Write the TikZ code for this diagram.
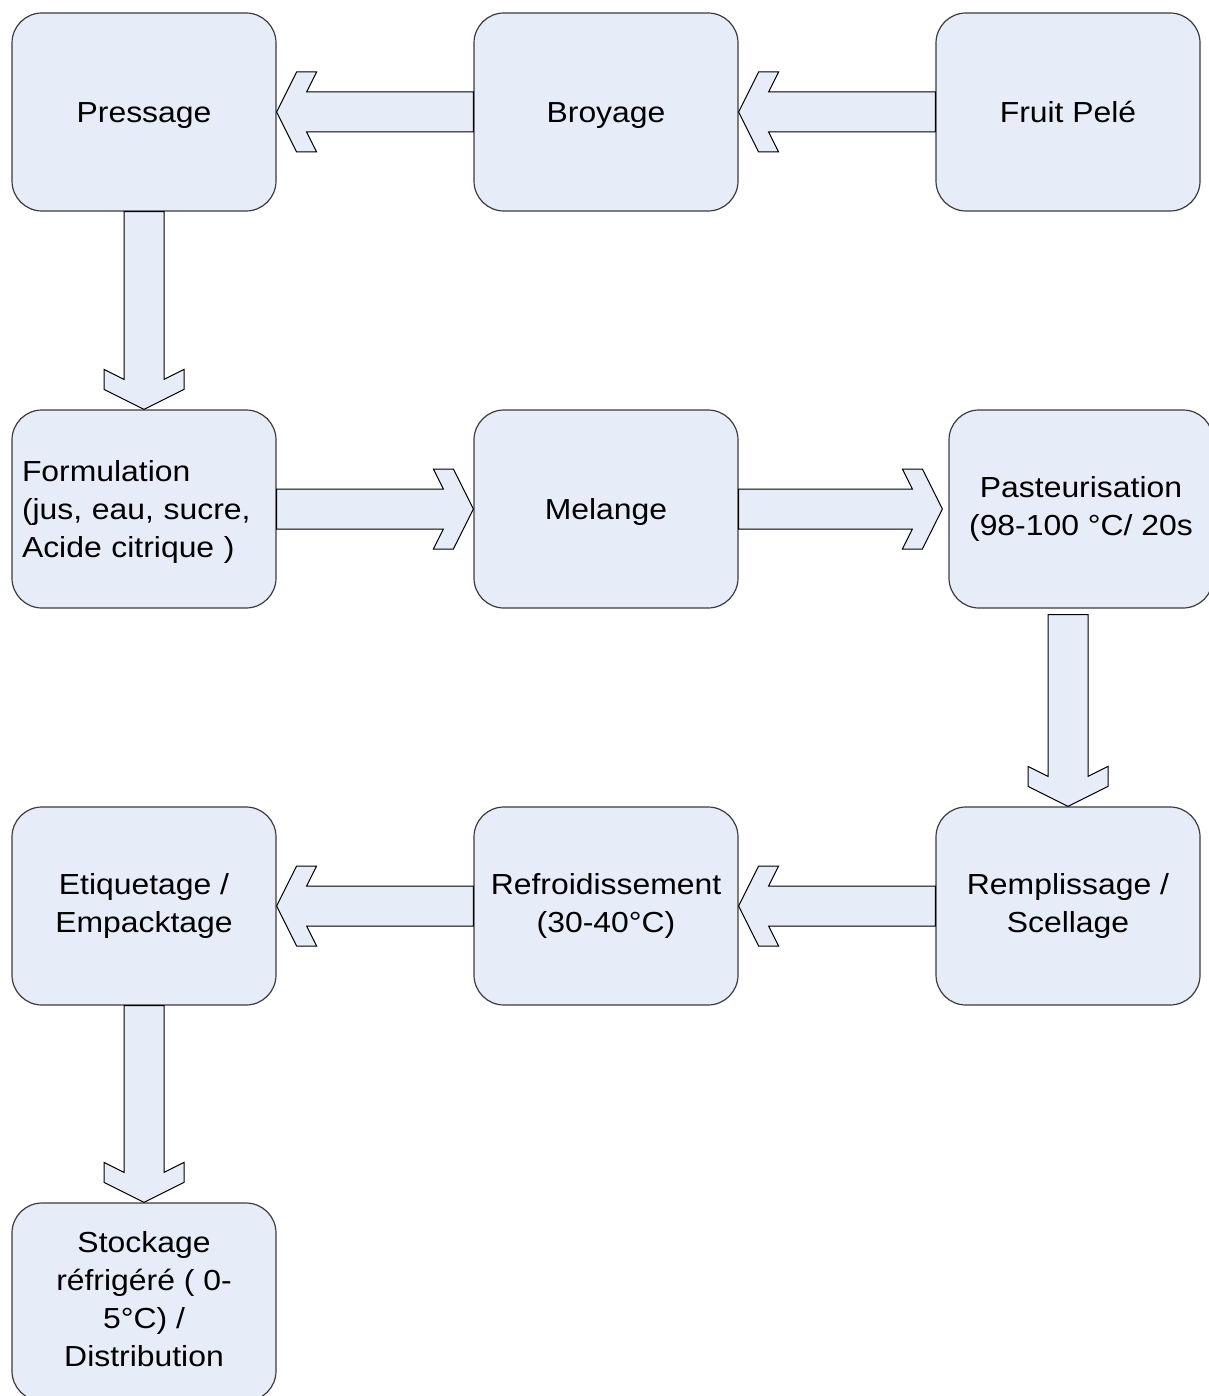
\documentclass[tikz,border=0pt]{standalone}
\usepackage{fontspec}
\setmainfont{Liberation Sans}[FakeStretch=1.1]
\usetikzlibrary{calc}

\definecolor{boxfill}{HTML}{E6EDF8}
\definecolor{boxline}{HTML}{3C3C3C}

% line ascent / descent as in the source drawing
\newcommand{\topstrut}{\rule{0pt}{0.905em}}
\newcommand{\botstrut}{\rule[-0.212em]{0pt}{0pt}}

\tikzset{
  procbox/.style={draw=boxline, line width=1.2pt, fill=boxfill, rounded corners=30pt,
    minimum width=264pt, minimum height=198pt, align=center,
    font=\fontsize{29}{38}\selectfont,
    execute at begin node=\topstrut, execute at end node=\botstrut},
  fatarrow/.style={draw=black, line width=1pt, fill=boxfill, line join=miter}
}

% hollow block arrow from #1 to the tip #2
\newcommand{\fatarrow}[2]{%
  \path (#1) coordinate (fa s) (#2) coordinate (fa t);
  \path ($(fa t)!30pt!(fa s)$) coordinate (fa a)
        ($(fa t)!40pt!(fa s)$) coordinate (fa b)
        ($(fa t)!20pt!(fa s)$) coordinate (fa c);
  \draw[fatarrow] ($(fa s)!20pt!90:(fa t)$) -- ($(fa a)!20pt!90:(fa t)$)
    -- ($(fa b)!40pt!90:(fa t)$) -- ($(fa c)!40pt!90:(fa t)$) -- (fa t)
    -- ($(fa c)!40pt!-90:(fa t)$) -- ($(fa b)!40pt!-90:(fa t)$)
    -- ($(fa a)!20pt!-90:(fa t)$) -- ($(fa s)!20pt!-90:(fa t)$) -- cycle;
}

\begin{document}
\begin{tikzpicture}[x=1pt, y=-1pt]
  \useasboundingbox[fill=white] (0,0) rectangle (1208,1396);

  % Process steps
  \node[procbox] (pressage) at (144,112) {Pressage};
  \node[procbox] (broyage) at (606,112) {Broyage};
  \node[procbox] (fruit) at (1068,112) {Fruit Pelé};

  \node[procbox, text width=244pt, inner xsep=10pt, align=left] (formulation) at (144,509)
    {Formulation\\(jus, eau, sucre,\\Acide citrique )};
  \node[procbox] (melange) at (606,509) {Melange};
  \node[procbox] (pasteur) at (1081,509) {Pasteurisation\\(98-100 °C/ 20s};

  \node[procbox] (etiquetage) at (144,906) {Etiquetage /\\Empacktage};
  \node[procbox] (refroid) at (606,906) {Refroidissement\\(30-40°C)};
  \node[procbox] (remplissage) at (1068,906) {Remplissage /\\Scellage};

  \node[procbox] (stockage) at (144,1302) {Stockage\\réfrigéré ( 0-\\5°C) /\\Distribution};

  % Flow
  \fatarrow{fruit.west}{broyage.east}
  \fatarrow{broyage.west}{pressage.east}
  \fatarrow{pressage.south}{formulation.north}
  \fatarrow{formulation.east}{melange.west}
  \fatarrow{melange.east}{$(pasteur.west)+(-6,0)$}
  \fatarrow{$(remplissage.north |- pasteur.south)+(0,6)$}{remplissage.north}
  \fatarrow{remplissage.west}{refroid.east}
  \fatarrow{refroid.west}{etiquetage.east}
  \fatarrow{etiquetage.south}{stockage.north}
\end{tikzpicture}
\end{document}
